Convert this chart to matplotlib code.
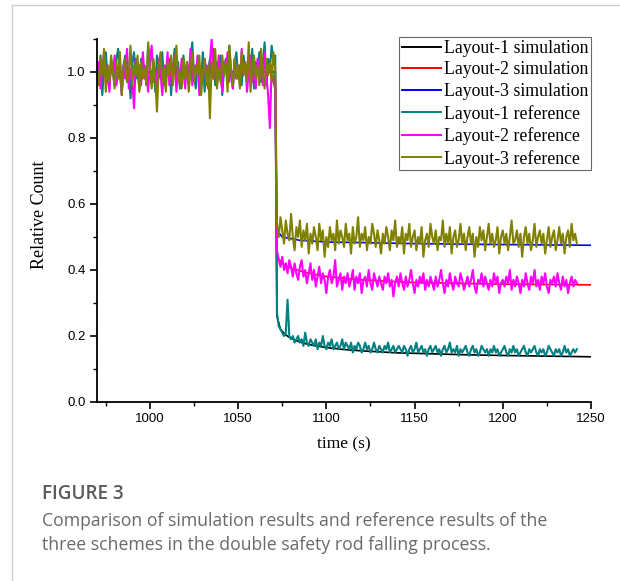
import numpy as np
import matplotlib
matplotlib.use("Agg")
import matplotlib.pyplot as plt
from matplotlib.lines import Line2D
from matplotlib.ticker import MultipleLocator

# reference series: sampled every 1 s from 970 s to 1242 s
T_START = 970.0
T_STEP = 1.0

ref1_pre = [
    1.02, 0.97, 1.05, 0.93, 1.01, 1.06, 0.98, 0.95, 1.03, 1.00,
    0.96, 1.04, 1.07, 0.99, 0.94, 1.02, 1.05, 0.97, 1.01, 0.92,
    1.03, 1.06, 0.98, 1.00, 0.95, 1.04, 0.99, 1.02, 0.96, 1.08,
    1.01, 0.97, 1.03, 0.94, 1.05, 1.00, 0.98, 1.06, 0.96, 1.02,
    0.99, 1.04, 0.93, 1.01, 1.07, 0.97, 1.03, 0.95, 1.00, 1.05,
    0.98, 1.02, 0.96, 1.04, 1.09, 0.99, 0.95, 1.03, 1.01, 0.97,
    1.06, 0.94, 1.02, 1.00, 1.04, 0.98, 1.07, 0.96, 1.03, 0.99,
    1.05, 0.93, 1.01, 1.04, 0.97, 1.08, 1.00, 0.95, 1.03, 1.06,
    0.98, 1.02, 0.96, 1.05, 1.01, 0.97, 1.04, 0.99, 1.07, 0.95,
    1.03, 1.00, 1.06, 0.97, 1.02, 1.09, 0.96, 1.04, 1.01, 1.08,
    1.03, 1.05,
]
ref1_post = [
    0.27, 0.23, 0.22, 0.21, 0.20, 0.21, 0.31, 0.20, 0.19, 0.20,
    0.18, 0.19, 0.20, 0.18, 0.19, 0.17, 0.21, 0.18, 0.17, 0.19,
    0.18, 0.17, 0.19, 0.16, 0.18, 0.17, 0.20, 0.17, 0.16, 0.18,
    0.17, 0.19, 0.16, 0.17, 0.18, 0.16, 0.17, 0.19, 0.16, 0.18,
    0.17, 0.16, 0.18, 0.15, 0.17, 0.16, 0.18, 0.17, 0.15, 0.16,
    0.18, 0.16, 0.17, 0.15, 0.16, 0.18, 0.16, 0.15, 0.17, 0.16,
    0.15, 0.17, 0.16, 0.18, 0.15, 0.16, 0.17, 0.15, 0.16, 0.17,
    0.16, 0.15, 0.17, 0.16, 0.14, 0.16, 0.17, 0.15, 0.16, 0.18,
    0.15, 0.16, 0.17, 0.15, 0.16, 0.14, 0.16, 0.17, 0.15, 0.16,
    0.17, 0.15, 0.16, 0.14, 0.16, 0.17, 0.15, 0.16, 0.18, 0.15,
    0.16, 0.15, 0.17, 0.14, 0.16, 0.15, 0.16, 0.17, 0.15, 0.14,
    0.16, 0.17, 0.15, 0.16, 0.14, 0.15, 0.17, 0.16, 0.15, 0.16,
    0.14, 0.16, 0.15, 0.17, 0.15, 0.16, 0.14, 0.15, 0.16, 0.17,
    0.15, 0.14, 0.16, 0.15, 0.17, 0.15, 0.16, 0.14, 0.15, 0.16,
    0.17, 0.15, 0.14, 0.16, 0.15, 0.16, 0.17, 0.15, 0.14, 0.16,
    0.15, 0.16, 0.14, 0.15, 0.17, 0.16, 0.15, 0.14, 0.16, 0.15,
    0.16, 0.14, 0.15, 0.17, 0.15, 0.16, 0.14, 0.15, 0.16, 0.15,
    0.16,
]

ref2_pre = [
    0.98, 1.03, 0.95, 1.01, 1.06, 0.97, 1.02, 0.94, 1.04, 0.99,
    1.05, 0.96, 1.00, 1.03, 0.93, 1.02, 0.98, 1.07, 0.95, 1.01,
    0.97, 0.89, 1.04, 0.99, 1.02, 0.96, 1.06, 0.98, 1.00, 0.94,
    1.03, 1.08, 0.97, 1.01, 0.95, 1.04, 1.00, 0.93, 1.02, 0.98,
    1.06, 0.96, 1.03, 0.99, 1.05, 0.94, 1.01, 0.97, 1.04, 1.00,
    0.95, 1.03, 0.98, 1.07, 0.96, 1.02, 0.99, 1.05, 0.93, 1.01,
    0.97, 1.04, 1.00, 0.95, 1.03, 1.10, 0.98, 1.02, 0.96, 1.05,
    0.99, 0.94, 1.03, 1.00, 1.06, 0.97, 1.01, 0.95, 1.04, 0.98,
    1.02, 0.96, 1.07, 0.99, 1.03, 0.94, 1.00, 1.05, 0.97, 1.02,
    0.95, 1.04, 0.98, 1.01, 0.96, 1.06, 0.99, 0.93, 0.83, 1.02,
    0.97, 0.95,
]
ref2_post = [
    0.46, 0.43, 0.41, 0.44, 0.40, 0.42, 0.39, 0.43, 0.41, 0.38,
    0.42, 0.39, 0.37, 0.41, 0.43, 0.38, 0.40, 0.36, 0.39, 0.42,
    0.37, 0.40, 0.35, 0.38, 0.41, 0.36, 0.39, 0.37, 0.33, 0.38,
    0.40, 0.36, 0.38, 0.43, 0.35, 0.37, 0.39, 0.34, 0.38, 0.36,
    0.39, 0.35, 0.37, 0.40, 0.34, 0.38, 0.36, 0.39, 0.33, 0.37,
    0.38, 0.35, 0.40, 0.36, 0.34, 0.39, 0.37, 0.35, 0.38, 0.36,
    0.34, 0.38, 0.36, 0.39, 0.35, 0.37, 0.32, 0.36, 0.38, 0.35,
    0.39, 0.36, 0.34, 0.38, 0.35, 0.37, 0.40, 0.36, 0.33, 0.37,
    0.35, 0.38, 0.36, 0.39, 0.34, 0.37, 0.35, 0.38, 0.36, 0.34,
    0.38, 0.35, 0.37, 0.40, 0.36, 0.33, 0.37, 0.35, 0.39, 0.36,
    0.34, 0.38, 0.36, 0.35, 0.39, 0.37, 0.34, 0.36, 0.38, 0.35,
    0.37, 0.40, 0.35, 0.33, 0.37, 0.36, 0.39, 0.35, 0.38, 0.36,
    0.34, 0.37, 0.35, 0.39, 0.36, 0.38, 0.33, 0.36, 0.37, 0.35,
    0.38, 0.36, 0.40, 0.34, 0.37, 0.35, 0.38, 0.36, 0.33, 0.37,
    0.35, 0.39, 0.36, 0.34, 0.38, 0.36, 0.40, 0.35, 0.37, 0.34,
    0.38, 0.36, 0.39, 0.35, 0.33, 0.37, 0.36, 0.38, 0.35, 0.39,
    0.36, 0.34, 0.38, 0.35, 0.37, 0.33, 0.36, 0.38, 0.35, 0.37,
    0.36,
]

ref3_pre = [
    1.01, 0.96, 1.04, 0.99, 1.07, 0.94, 1.02, 0.97, 1.05, 1.00,
    0.95, 1.03, 0.98, 1.06, 0.93, 1.01, 1.04, 0.97, 1.00, 1.08,
    0.96, 1.02, 0.99, 1.05, 0.94, 1.03, 0.98, 1.01, 0.96, 1.09,
    1.00, 0.95, 1.04, 0.98, 0.88, 1.02, 1.06, 0.97, 1.01, 0.94,
    1.03, 0.99, 1.05, 0.96, 1.02, 1.08, 0.97, 1.00, 0.95, 1.04,
    0.98, 1.03, 0.94, 1.01, 1.06, 0.97, 1.02, 0.99, 1.05, 0.93,
    1.00, 1.04, 0.96, 1.02, 0.86, 1.03, 0.98, 1.07, 0.95, 1.01,
    0.97, 1.05, 0.99, 1.03, 0.94, 1.08, 1.00, 0.96, 1.04, 0.98,
    1.02, 0.95, 1.06, 0.99, 1.03, 0.97, 1.09, 0.94, 1.01, 1.05,
    0.98, 1.02, 0.96, 1.07, 1.00, 0.95, 1.04, 0.99, 1.03, 0.97,
    1.06, 1.01,
]
ref3_post = [
    0.54, 0.50, 0.56, 0.52, 0.48, 0.55, 0.51, 0.49, 0.57, 0.50,
    0.46, 0.53, 0.50, 0.55, 0.47, 0.52, 0.49, 0.54, 0.45, 0.51,
    0.48, 0.53, 0.50, 0.46, 0.54, 0.49, 0.52, 0.44, 0.50, 0.47,
    0.53, 0.49, 0.51, 0.46, 0.55, 0.48, 0.52, 0.50, 0.47, 0.54,
    0.49, 0.51, 0.45, 0.53, 0.48, 0.50, 0.56, 0.47, 0.51, 0.49,
    0.53, 0.46, 0.50, 0.48, 0.54, 0.51, 0.47, 0.52, 0.49, 0.45,
    0.51, 0.48, 0.53, 0.50, 0.46, 0.52, 0.49, 0.55, 0.47, 0.50,
    0.48, 0.53, 0.45, 0.51, 0.49, 0.54, 0.47, 0.50, 0.52, 0.46,
    0.50, 0.48, 0.53, 0.44, 0.49, 0.51, 0.47, 0.54, 0.50, 0.48,
    0.52, 0.46, 0.50, 0.49, 0.55, 0.47, 0.51, 0.48, 0.53, 0.45,
    0.50, 0.52, 0.47, 0.49, 0.54, 0.48, 0.51, 0.46, 0.50, 0.53,
    0.48, 0.51, 0.44, 0.50, 0.47, 0.53, 0.49, 0.52, 0.46, 0.50,
    0.54, 0.48, 0.51, 0.47, 0.49, 0.53, 0.45, 0.50, 0.52, 0.48,
    0.51, 0.46, 0.50, 0.55, 0.48, 0.49, 0.52, 0.47, 0.51, 0.44,
    0.50, 0.53, 0.48, 0.51, 0.46, 0.49, 0.54, 0.47, 0.50, 0.52,
    0.48, 0.51, 0.45, 0.49, 0.53, 0.47, 0.50, 0.52, 0.46, 0.49,
    0.53, 0.48, 0.51, 0.45, 0.50, 0.52, 0.47, 0.54, 0.49, 0.51,
    0.48,
]

# simulation curves: (time, value) points
sim1_t = [970, 1071, 1072, 1074, 1077, 1080, 1085, 1090, 1100, 1110, 1120, 1140, 1160, 1180, 1200, 1225, 1250]
sim1_v = [1.0, 1.0, 0.26, 0.22, 0.203, 0.193, 0.182, 0.174, 0.165, 0.159, 0.155, 0.149, 0.146, 0.143, 0.141, 0.139, 0.137]
sim2_t = [970, 1071, 1072, 1075, 1080, 1090, 1100, 1120, 1150, 1200, 1250]
sim2_v = [1.0, 1.0, 0.44, 0.42, 0.405, 0.39, 0.38, 0.37, 0.362, 0.357, 0.355]
sim3_t = [970, 1071, 1072, 1075, 1085, 1100, 1150, 1200, 1250]
sim3_v = [1.0, 1.0, 0.52, 0.50, 0.49, 0.485, 0.48, 0.477, 0.475]

labels = ["Layout-1 simulation", "Layout-2 simulation", "Layout-3 simulation",
          "Layout-1 reference", "Layout-2 reference", "Layout-3 reference"]
colors = ["#000000", "#ff0000", "#0000ff", "#008080", "#ff00ff", "#808000"]

x_ticks = [1000, 1050, 1100, 1150, 1200, 1250]
y_ticks = [0.0, 0.2, 0.4, 0.6, 0.8, 1.0]

fig = plt.figure(figsize=(6.2, 5.81), dpi=100)

# light card border (left + top)
fig.add_artist(Line2D([12 / 620, 12 / 620], [0, 1 - 5 / 581], color="#cfcfcf", lw=1.0))
fig.add_artist(Line2D([12 / 620, 1], [1 - 5 / 581, 1 - 5 / 581], color="#cfcfcf", lw=1.0))

ax = fig.add_axes([97 / 620, 1 - 402 / 581, (591 - 97) / 620, (402 - 39) / 581])

ax.plot(sim1_t, sim1_v, color=colors[0], lw=1.2, label=labels[0])
ax.plot(sim2_t, sim2_v, color=colors[1], lw=1.2, label=labels[1])
ax.plot(sim3_t, sim3_v, color=colors[2], lw=1.2, label=labels[2])
for pre, post, c, lab in [(ref1_pre, ref1_post, colors[3], labels[3]),
                          (ref2_pre, ref2_post, colors[4], labels[4]),
                          (ref3_pre, ref3_post, colors[5], labels[5])]:
    vals = np.array(pre + post)
    t = T_START + T_STEP * np.arange(len(vals))
    ax.plot(t, vals, color=c, lw=1.5, label=lab)

ax.set_xlim(970, 1250)
ax.set_ylim(0, 1.1)
ax.set_xticks(x_ticks)
ax.set_yticks(y_ticks)
ax.set_yticklabels([f"{v:.1f}" for v in y_ticks])
ax.xaxis.set_minor_locator(MultipleLocator(25))
ax.yaxis.set_minor_locator(MultipleLocator(0.1))
for s in ["top", "right"]:
    ax.spines[s].set_visible(False)
for s in ["left", "bottom"]:
    ax.spines[s].set_linewidth(1.3)
ax.tick_params(which="major", direction="out", length=5, width=1.2,
               labelsize=9.5, pad=3)
ax.tick_params(which="minor", direction="out", length=3, width=1.0)
for lab in ax.get_xticklabels() + ax.get_yticklabels():
    lab.set_fontfamily("Liberation Sans")

ax.set_xlabel("time (s)", family="Liberation Serif", fontsize=12.5, labelpad=8)
ax.set_ylabel("Relative Count", family="Liberation Serif", fontsize=13)
ax.yaxis.set_label_coords(-0.1, 0.515)

leg = ax.legend(loc="upper right", bbox_to_anchor=(1.0, 1.005), borderaxespad=0,
                prop={"family": "Liberation Serif", "size": 12.8},
                frameon=True, fancybox=False, edgecolor="#444444",
                handlelength=2.2, handletextpad=0.15, labelspacing=0.26,
                borderpad=0.15)
leg.get_frame().set_linewidth(0.8)
for h in leg.get_lines():
    h.set_linewidth(1.4)

fig.text(42 / 620, 1 - 484 / 581, "FIGURE 3", family="Open Sans", fontsize=13.6,
         fontweight="semibold", color="#5a5a5a", va="top")
fig.text(42 / 620, 1 - 512 / 581,
         "Comparison of simulation results and reference results of the\n"
         "three schemes in the double safety rod falling process.",
         family="Open Sans", fontsize=12.7, color="#6a6a6a", va="top",
         linespacing=1.45)

fig.savefig("out.png", dpi=100)
